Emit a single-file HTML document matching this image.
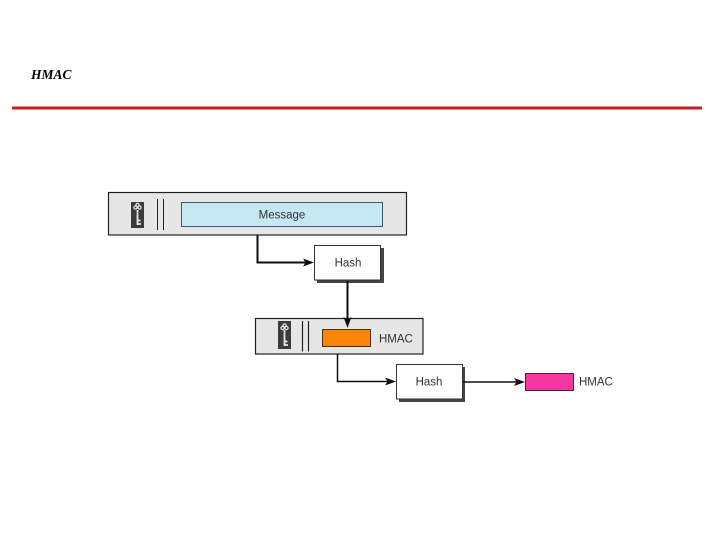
<!DOCTYPE html>
<html>
<head>
<meta charset="utf-8">
<style>
html,body{margin:0;padding:0;background:#fff}
body{width:720px;height:540px;overflow:hidden;position:relative}
svg{position:absolute;left:0;top:0}
</style>
</head>
<body>
<svg width="720" height="540" viewBox="0 0 720 540" xmlns="http://www.w3.org/2000/svg">
  <defs>
    <filter id="soft" x="0" y="0" width="100%" height="100%" filterUnits="userSpaceOnUse" primitiveUnits="userSpaceOnUse">
      <feGaussianBlur stdDeviation="0.3"/>
    </filter>
  </defs>
  <text x="31" y="79" font-family="'Liberation Serif',serif" font-size="13.5" font-weight="bold" font-style="italic" fill="#000">HMAC</text>
  <rect x="12" y="106.5" width="690" height="3" fill="#c8201f"/>

  <g filter="url(#soft)">
    <!-- Top box -->
    <rect x="108.5" y="192.5" width="298" height="42.5" fill="#e6e6e6" stroke="#222" stroke-width="1.2"/>
    <rect x="181.5" y="202.5" width="201" height="24" fill="#c5e8f2" stroke="#3c5a66" stroke-width="1"/>
    <text x="282" y="218.5" text-anchor="middle" font-family="'Liberation Sans',sans-serif" font-size="11.5" fill="#333">Message</text>
    <!-- Key 1 -->
    <rect x="131" y="202" width="13" height="26" fill="#3a3a3a"/>
    <g fill="none" stroke="#e8e8e8">
      <circle cx="135.5" cy="207.5" r="1.6" stroke-width="1.2"/>
      <circle cx="139.5" cy="207.5" r="1.6" stroke-width="1.2"/>
      <circle cx="137.5" cy="205" r="1.6" stroke-width="1.2"/>
      <path d="M137.5 210V225M137.5 224H141M137.5 220.5H140.5" stroke-width="1.8"/>
    </g>
    <path d="M157.5 199V230M163.5 199V230" stroke="#222" stroke-width="1" fill="none"/>

    <!-- Hash 1 -->
    <rect x="317" y="248" width="67" height="35" fill="#444"/>
    <rect x="314.5" y="245.5" width="66" height="34.5" fill="#fff" stroke="#333" stroke-width="1"/>
    <text x="348" y="266.5" text-anchor="middle" font-family="'Liberation Sans',sans-serif" font-size="11.5" fill="#333">Hash</text>

    <!-- Connector 1 -->
    <path d="M257.5 235V262.5H306" fill="none" stroke="#111" stroke-width="2"/>
    <path d="M314 262.5L303 258.5L305.5 262.5L303 266.5Z" fill="#111"/>

    <!-- Middle box -->
    <rect x="255.5" y="318.5" width="167.5" height="35.5" fill="#e6e6e6" stroke="#222" stroke-width="1.2"/>
    <rect x="322.5" y="329.5" width="48" height="17" fill="#fb8404" stroke="#4a3010" stroke-width="1"/>
    <text x="379" y="342.5" font-family="'Liberation Sans',sans-serif" font-size="11.5" fill="#333">HMAC</text>
    <!-- Key 2 -->
    <rect x="278" y="321" width="13" height="28" fill="#3a3a3a"/>
    <g fill="none" stroke="#e8e8e8">
      <circle cx="282.5" cy="328" r="1.6" stroke-width="1.2"/>
      <circle cx="286.5" cy="328" r="1.6" stroke-width="1.2"/>
      <circle cx="284.5" cy="325.5" r="1.6" stroke-width="1.2"/>
      <path d="M284.5 330V346M284.5 345H288M284.5 341.5H287.5" stroke-width="1.8"/>
    </g>
    <path d="M302.5 321V351.5M308.5 321V351.5" stroke="#222" stroke-width="1.2" fill="none"/>

    <!-- Connector 2 -->
    <path d="M347.5 281V320" fill="none" stroke="#111" stroke-width="2"/>
    <path d="M347.5 328L343.5 317L347.5 319.5L351.5 317Z" fill="#111"/>

    <!-- Connector 3 -->
    <path d="M337.5 354V381.5H388" fill="none" stroke="#111" stroke-width="1.5"/>
    <path d="M396 381.5L385 377.5L387.5 381.5L385 385.5Z" fill="#111"/>

    <!-- Hash 2 -->
    <rect x="399" y="367" width="66" height="35" fill="#444"/>
    <rect x="396.5" y="364.5" width="66" height="34.5" fill="#fff" stroke="#333" stroke-width="1"/>
    <text x="429" y="385.5" text-anchor="middle" font-family="'Liberation Sans',sans-serif" font-size="11.5" fill="#333">Hash</text>

    <!-- Connector 4 -->
    <path d="M463 382H518" fill="none" stroke="#111" stroke-width="1.6"/>
    <path d="M525 382L514 378L516.5 382L514 386Z" fill="#111"/>

    <!-- Pink -->
    <rect x="525.5" y="373.5" width="48" height="17" fill="#f4379f" stroke="#4a2038" stroke-width="1"/>
    <text x="579" y="385.5" font-family="'Liberation Sans',sans-serif" font-size="11.5" fill="#333">HMAC</text>
  </g>
</svg>
</body>
</html>
